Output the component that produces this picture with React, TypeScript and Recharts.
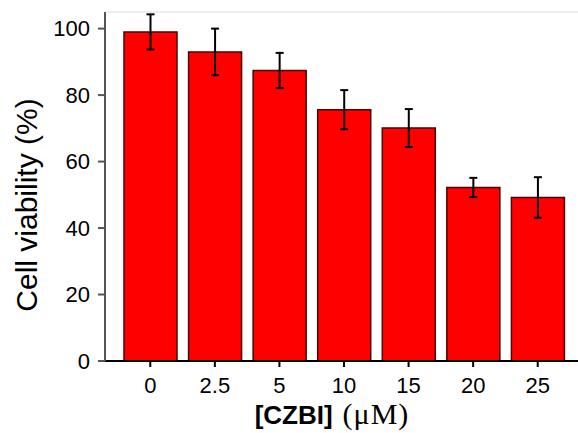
import React from 'react';
import { BarChart, Bar, XAxis, YAxis, ErrorBar, ReferenceLine, Label } from 'recharts';

const doses = ['0', '2.5', '5', '10', '15', '20', '25'];
const viability = [99, 93, 87.4, 75.6, 70.1, 52.2, 49.2];
const viabilitySd = [5.3, 7, 5.3, 5.9, 5.7, 2.9, 6.1];
const yTicks = [0, 20, 40, 60, 80, 100];

const data = doses.map((dose, i) => ({ dose, value: viability[i], err: viabilitySd[i] }));

const font = '"Liberation Sans", Arial, sans-serif';

const YTitle = () => (
  <text
    x={0}
    y={0}
    transform="translate(37, 205) rotate(-90)"
    textAnchor="middle"
    fontFamily={font}
    fontSize={30}
    fill="#000"
  >
    Cell viability (%)
  </text>
);

const XTitle = () => (
  <text x={332} y={424} textAnchor="middle" fill="#000">
    <tspan fontFamily={font} fontWeight="bold" fontSize={26}>[CZBI]</tspan>
    <tspan fontFamily='"Liberation Serif", "Times New Roman", serif' fontSize={30} dx={10} letterSpacing={1}>
      (μM)
    </tspan>
  </text>
);

export default function App() {
  return (
    <div style={{ position: 'absolute', left: 0, top: 0, width: 578, height: 433, background: '#fff' }}>
      <BarChart
        width={578}
        height={433}
        data={data}
        margin={{ top: 12, right: 0, bottom: 0, left: 0 }}
        barSize={53}
      >
        <ReferenceLine y={105} stroke="#eeeeee" strokeWidth={2} ifOverflow="extendDomain" />
        <XAxis
          dataKey="dose"
          height={72}
          padding={{ left: 13, right: 8 }}
          stroke="#000"
          strokeWidth={2}
          tickSize={6}
          tickMargin={10}
          tick={{ fill: '#000', fontSize: 22, fontFamily: font }}
        >
          <Label content={<XTitle />} />
        </XAxis>
        <YAxis
          width={105}
          domain={[0, 105]}
          ticks={yTicks}
          stroke="#555"
          strokeWidth={2}
          tickSize={7}
          tickMargin={8}
          tick={{ fill: '#000', fontSize: 22, fontFamily: font }}
        >
          <Label content={<YTitle />} />
        </YAxis>
        <Bar dataKey="value" fill="#ff0000" stroke="#4a0000" strokeWidth={1.5} isAnimationActive={false}>
          <ErrorBar dataKey="err" width={4} stroke="#000" strokeWidth={2} direction="y" />
        </Bar>
      </BarChart>
    </div>
  );
}
